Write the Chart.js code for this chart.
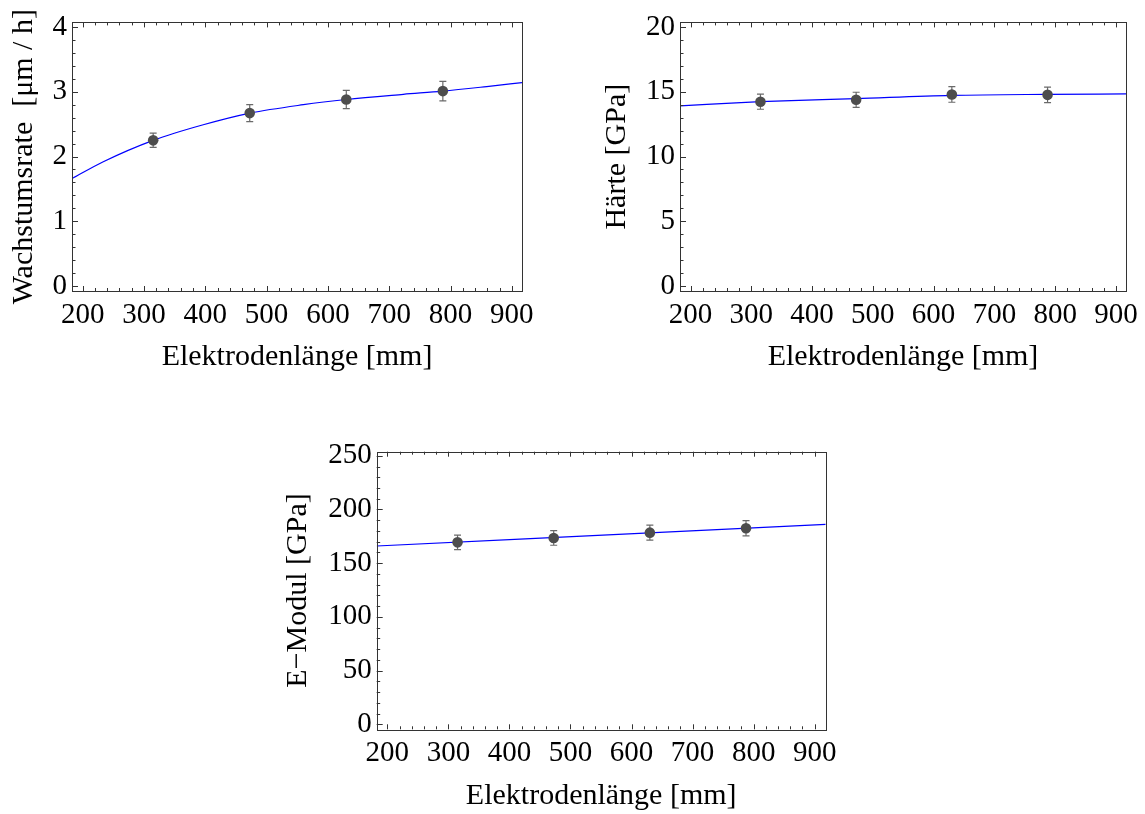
<!DOCTYPE html>
<html><head><meta charset="utf-8">
<script src="https://cdn.jsdelivr.net/npm/chart.js@4.4.1/dist/chart.umd.min.js"></script>
<style>
html,body{margin:0;padding:0;background:#fff}
body{width:1145px;height:814px;position:relative;overflow:hidden}
canvas{position:absolute}
</style></head><body>
<canvas id="c1" width="560" height="390" style="left:0;top:0"></canvas>
<canvas id="c2" width="585" height="390" style="left:560px;top:0"></canvas>
<canvas id="c3" width="600" height="394" style="left:260px;top:420px"></canvas>
<script>
// ---- data ----
const xLabel = 'Elektrodenlänge [mm]';
const xTicks = [200, 300, 400, 500, 600, 700, 800, 900];
const electrodeLength = [315, 472.5, 630, 787.5];

// Wachstumsrate
const rateTicks = [0, 1, 2, 3, 4];
const rateValues = [2.25, 2.67, 2.88, 3.01];
const rateErrors = [0.11, 0.13, 0.14, 0.15];
const rateFitX = [182.6, 233.6, 315, 396.7, 473, 560, 630, 723, 787, 859, 916.6];
const rateFitY = [1.66, 1.92, 2.25, 2.49, 2.67, 2.80, 2.88, 2.96, 3.01, 3.08, 3.14];

// Härte
const hardTicks = [0, 5, 10, 15, 20];
const hardValues = [14.23, 14.38, 14.79, 14.76];
const hardErrors = [0.58, 0.58, 0.6, 0.6];
const hardFitX = [182.6, 315, 472, 630, 787, 916.6];
const hardFitY = [13.91, 14.23, 14.47, 14.72, 14.80, 14.83];

// E-Modul
const modTicks = [0, 50, 100, 150, 200, 250];
const modValues = [169.4, 173.5, 178.4, 182.5];
const modErrors = [6.8, 6.8, 7.0, 7.1];
const modFitX = [182.6, 918];
const modFitY = [166.0, 186.2];

// ---- drawing ----
const FAMILY = "'Liberation Serif', 'Times New Roman', serif";
const TICK_FONT = {family: FAMILY, size: 29};
const TITLE_FONT = {family: FAMILY, size: 30};

const frameTicks = {
  id: 'frameTicks',
  afterDatasetsDraw(chart, args, o) {
    const {ctx, chartArea: a, scales: {x, y}} = chart;
    ctx.save();
    ctx.strokeStyle = '#333';
    ctx.lineWidth = 1;
    ctx.beginPath();
    const xs = v => Math.round(x.getPixelForValue(v)) + 0.5;
    const ys = v => Math.round(y.getPixelForValue(v)) + 0.5;
    const xMinorVals = [];
    for (let v = Math.ceil(x.min / o.xMinor) * o.xMinor; v <= x.max; v += o.xMinor) xMinorVals.push(v);
    xMinorVals.forEach(v => {
      const major = o.xMajor.includes(v);
      const L = major ? 5 : 3;
      const p = xs(v);
      ctx.moveTo(p, a.bottom); ctx.lineTo(p, a.bottom - L);
      ctx.moveTo(p, a.top); ctx.lineTo(p, a.top + L);
    });
    const yMinorVals = [];
    for (let i = Math.ceil(y.min / o.yMinor); i * o.yMinor <= y.max; i++) yMinorVals.push(+(i * o.yMinor).toFixed(6));
    yMinorVals.forEach(v => {
      const major = o.yMajor.includes(v);
      const L = major ? 6 : 3.5;
      const p = ys(v);
      ctx.moveTo(a.left, p); ctx.lineTo(a.left + L, p);
    });
    ctx.stroke();
    ctx.strokeRect(Math.round(a.left) + 0.5, Math.round(a.top) + 0.5,
      Math.round(a.right - a.left), Math.round(a.bottom - a.top));
    ctx.restore();
  }
};

const errorBars = {
  id: 'errorBars',
  beforeDatasetsDraw(chart, args, o) {
    const {ctx, scales: {x, y}} = chart;
    ctx.save();
    ctx.strokeStyle = '#6a6a6a';
    ctx.lineWidth = 1.2;
    ctx.beginPath();
    o.xs.forEach((xv, i) => {
      const px = x.getPixelForValue(xv);
      const top = y.getPixelForValue(o.ys[i] + o.err[i]);
      const bot = y.getPixelForValue(o.ys[i] - o.err[i]);
      ctx.moveTo(px, top); ctx.lineTo(px, bot);
      ctx.moveTo(px - 3.5, top); ctx.lineTo(px + 3.5, top);
      ctx.moveTo(px - 3.5, bot); ctx.lineTo(px + 3.5, bot);
    });
    ctx.stroke();
    ctx.restore();
  }
};

function makeChart(id, c) {
  const pts = electrodeLength.map((v, i) => ({x: v, y: c.values[i]}));
  const fit = c.fitX.map((v, i) => ({x: v, y: c.fitY[i]}));
  return new Chart(document.getElementById(id), {
    type: 'scatter',
    data: {
      datasets: [
        {data: fit, showLine: true, borderColor: '#0000ff', borderWidth: 1.2, pointRadius: 0,
         cubicInterpolationMode: 'monotone', order: 2},
        {data: pts, pointRadius: 5.3, pointBackgroundColor: '#4d4d4d', pointBorderWidth: 0, order: 1}
      ]
    },
    options: {
      responsive: false, animation: false, events: [],
      layout: {padding: c.pad},
      plugins: {
        legend: {display: false}, tooltip: {enabled: false},
        frameTicks: {xMajor: xTicks, xMinor: 20, yMajor: c.yTicks, yMinor: c.yMinor},
        errorBars: {xs: electrodeLength, ys: c.values, err: c.errors}
      },
      scales: {
        x: {
          type: 'linear', min: 182.6, max: c.xMax,
          afterBuildTicks: s => { s.ticks = xTicks.map(v => ({value: v})); },
          afterFit: s => { s.height = c.xH; },
          grid: {display: false, drawTicks: false}, border: {display: false},
          ticks: {font: TICK_FONT, color: '#000', padding: c.xTickPad, maxRotation: 0, autoSkip: false,
                  callback: v => String(v)},
          title: {display: true, text: xLabel, font: TITLE_FONT, color: '#000', padding: {top: 0, bottom: c.xTitlePad}}
        },
        y: {
          type: 'linear', min: c.yMin, max: c.yMax,
          afterBuildTicks: s => { s.ticks = c.yTicks.map(v => ({value: v})); },
          afterFit: s => { s.width = c.yW; },
          grid: {display: false, drawTicks: false}, border: {display: false},
          ticks: {font: TICK_FONT, color: '#000', padding: 5, autoSkip: false, callback: v => String(v)},
          title: {display: true, text: c.yLabel, font: TITLE_FONT, color: '#000', padding: {top: c.yTitlePad, bottom: 0}}
        }
      }
    },
    plugins: [errorBars, frameTicks]
  });
}

makeChart('c1', {
  values: rateValues, errors: rateErrors, fitX: rateFitX, fitY: rateFitY,
  yTicks: rateTicks, yMinor: 0.2, yMin: -0.075, yMax: 4.07, xMax: 916.6,
  yLabel: 'Wachstumsrate  [μm / h]',
  pad: {top: 14, right: 38, left: 0, bottom: 0}, xH: 99, yW: 72,
  xTickPad: 7, xTitlePad: 15, yTitlePad: 6
});
makeChart('c2', {
  values: hardValues, errors: hardErrors, fitX: hardFitX, fitY: hardFitY,
  yTicks: hardTicks, yMinor: 1, yMin: -0.375, yMax: 20.35, xMax: 916.6,
  yLabel: 'Härte [GPa]',
  pad: {top: 14, right: 15, left: 0, bottom: 0}, xH: 99, yW: 120,
  xTickPad: 7, xTitlePad: 15, yTitlePad: 39
});
makeChart('c3', {
  values: modValues, errors: modErrors, fitX: modFitX, fitY: modFitY,
  yTicks: modTicks, yMinor: 10, yMin: -4.7, yMax: 253.8, xMax: 918,
  yLabel: 'E\u2212Modul [GPa]',
  pad: {top: 31.7, right: 34.3, left: 0, bottom: 0}, xH: 84.7, yW: 116.7,
  xTickPad: 7, xTitlePad: 0, yTitlePad: 20
});
</script>
</body></html>
